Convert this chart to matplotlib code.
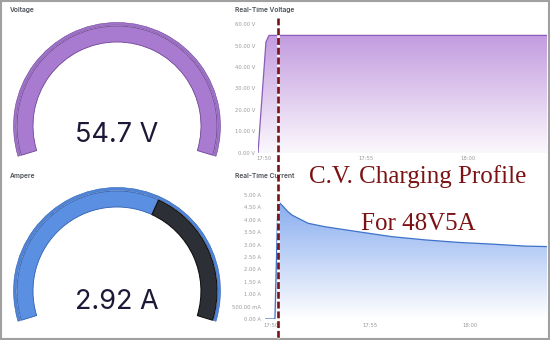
import numpy as np
import matplotlib
matplotlib.use('Agg')
import matplotlib.pyplot as plt
from matplotlib.patches import Wedge, Rectangle
from matplotlib.colors import LinearSegmentedColormap

W, H = 550, 340

# gauge values
gauge_titles = ['Voltage', 'Ampere']
gauge_values = [54.7, 2.92]
gauge_units = ['V', 'A']
gauge_max = [54.7, 4.75]

# time axis (minutes after 17:00)
t_range = (49.7, 63.9)
t_ticks = [50, 55, 60]
t_labels = ['17:50', '17:55', '18:00']

# real-time voltage
volt_t = [49.7, 50.09, 50.24, 63.9]
volt_v = [0.0, 51.6, 54.7, 54.7]
volt_ticks = [0, 10, 20, 30, 40, 50, 60]
volt_labels = ['0.00 V', '10.00 V', '20.00 V', '30.00 V', '40.00 V', '50.00 V', '60.00 V']

# real-time current
cur_t = [49.7, 50.2, 50.35, 50.6, 50.85, 51.06, 51.4, 51.87, 52.72, 54.38,
         56.09, 57.76, 59.42, 61.13, 62.79, 63.9]
cur_a = [0.0, 0.0, 4.75, 4.55, 4.33, 4.19, 4.05, 3.86, 3.72, 3.52,
         3.32, 3.19, 3.09, 3.02, 2.94, 2.92]
cur_ticks = [0, 0.5, 1, 1.5, 2, 2.5, 3, 3.5, 4, 4.5, 5]
cur_labels = ['0.00 A', '500.00 mA', '1.00 A', '1.50 A', '2.00 A', '2.50 A',
              '3.00 A', '3.50 A', '4.00 A', '4.50 A', '5.00 A']

annot = ['C.V. Charging Profile', 'For 48V5A']

fig = plt.figure(figsize=(W / 100, H / 100), dpi=100)


def px_axes(x0, y0, x1, y1):
    return fig.add_axes([x0 / W, 1 - y1 / H, (x1 - x0) / W, (y1 - y0) / H])


def grad_fill(ax, x, y, c_top, c_bot, ytop):
    cmap = LinearSegmentedColormap.from_list('g', [c_bot, c_top])
    grad = np.linspace(0, 1, 256).reshape(-1, 1)
    im = ax.imshow(grad, extent=[min(x), max(x), 0, ytop], origin='lower',
                   aspect='auto', cmap=cmap, zorder=1)
    poly = ax.fill_between(x, y, 0, color='none', lw=0)
    im.set_clip_path(poly.get_paths()[0], transform=ax.transData)


def style_chart(ax, yticks, ylabels, ylim, pad):
    ax.set_xlim(*t_range)
    ax.set_ylim(*ylim)
    ax.set_xticks(t_ticks)
    ax.set_xticklabels(t_labels)
    ax.set_yticks(yticks)
    ax.set_yticklabels(ylabels)
    ax.tick_params(length=0, labelsize=3.8, colors='#9a9a9a', pad=pad)
    for s in ax.spines.values():
        s.set_visible(False)
    ax.set_facecolor('none')


# voltage chart
axv = px_axes(258, 24, 547, 153)
grad_fill(axv, volt_t, volt_v, '#c39ce0', '#fbf8fd', 54.7)
axv.plot(volt_t, volt_v, color='#8a5cb8', lw=0.9, zorder=3)
style_chart(axv, volt_ticks, volt_labels, (0, 60), 2)

# current chart
axc = px_axes(265, 195, 547, 319)
grad_fill(axc, cur_t, cur_a, '#88acef', '#ffffff', 4.75)
axc.plot(cur_t, cur_a, color='#3e72c9', lw=0.9, zorder=3)
style_chart(axc, cur_ticks, cur_labels, (0, 5), 3)

# overlay in pixel coordinates (y up)
ov = fig.add_axes([0, 0, 1, 1])
ov.set_xlim(0, W)
ov.set_ylim(0, H)
ov.axis('off')
ov.set_facecolor('none')


def gauge(cx, cy, value, vmax, col, ring, edge, track, track_edge):
    start, end = 197, -17
    frac = min(value / vmax, 1.0)
    ang = start - frac * (start - end)
    ov.add_patch(Wedge((cx, cy), 103.5, end, start, width=2.6,
                       facecolor=ring, edgecolor=edge, lw=0.4))
    ov.add_patch(Wedge((cx, cy), 100, ang, start, width=16,
                       facecolor=col, edgecolor=edge, lw=0.6))
    if frac < 1:
        ov.add_patch(Wedge((cx, cy), 100, end, ang, width=16,
                           facecolor=track, edgecolor=track_edge, lw=0.8))


gauge(117, H - 126, gauge_values[0], gauge_max[0], '#a87bd0', '#a073cc', '#6e4394',
      '#2c2f35', '#111111')
gauge(117, H - 291, gauge_values[1], gauge_max[1], '#5b8fe2', '#4f86db', '#2f5fae',
      '#2c2f35', '#111111')

ov.text(117, H - 135, '%.1f %s' % (gauge_values[0], gauge_units[0]), ha='center',
        va='center', fontsize=19.5, color='#1d1838', family='Inter')
ov.text(117, H - 302, '%.2f %s' % (gauge_values[1], gauge_units[1]), ha='center',
        va='center', fontsize=19.5, color='#1d1838', family='Inter')

title_kw = dict(fontsize=4.8, color='#4a4f57', family='Inter', weight='semibold',
                va='center', ha='left')
ov.text(10, H - 10, gauge_titles[0], **title_kw)
ov.text(10, H - 176, gauge_titles[1], **title_kw)
ov.text(235, H - 10, 'Real-Time Voltage', **title_kw)
ov.text(235, H - 176, 'Real-Time Current', **title_kw)

# dashed marker line and annotation
ov.plot([278, 278], [H - 18, H - 338], color='#7a1517', lw=1.9,
        linestyle=(0, (2.6, 1.1)), gapcolor='white', zorder=5)
ov.text(418, H - 177, annot[0], ha='center', va='center', fontsize=18,
        color='#7b1214', family='Liberation Serif', zorder=6)
ov.text(418, H - 224, annot[1], ha='center', va='center', fontsize=18,
        color='#7b1214', family='Liberation Serif', zorder=6)

ov.add_patch(Rectangle((1, 1), W - 2, H - 2, fill=False, edgecolor='#a0a0a0', lw=1.5))

fig.savefig('out.png', dpi=100)
